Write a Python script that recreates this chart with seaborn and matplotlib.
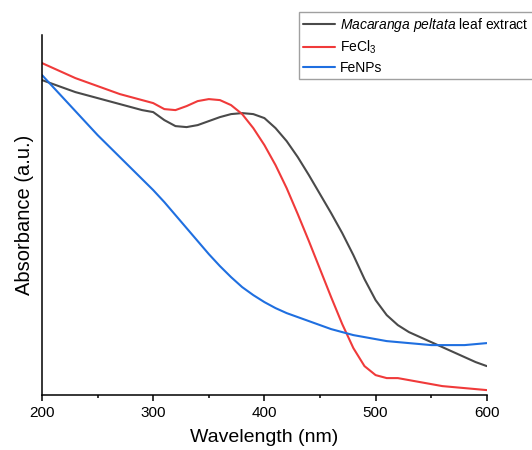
import numpy as np
import pandas as pd
import seaborn as sns
import matplotlib.pyplot as plt

# UV-vis spectra, values (arbitrary units)
wavelength = list(range(200, 601, 10))

leaf_extract = [3.15, 3.11, 3.07, 3.03, 3.00, 2.97, 2.94, 2.91, 2.88, 2.85,
                2.83, 2.75, 2.69, 2.68, 2.70, 2.74, 2.78, 2.81, 2.82, 2.81,
                2.77, 2.67, 2.54, 2.38, 2.20, 2.01, 1.82, 1.62, 1.40, 1.16,
                0.95, 0.80, 0.70, 0.63, 0.58, 0.53, 0.48, 0.43, 0.38, 0.33,
                0.29]

fecl3 = [3.32, 3.27, 3.22, 3.17, 3.13, 3.09, 3.05, 3.01, 2.98, 2.95,
         2.92, 2.86, 2.85, 2.89, 2.94, 2.96, 2.95, 2.90, 2.81, 2.67,
         2.50, 2.30, 2.07, 1.81, 1.54, 1.26, 0.98, 0.71, 0.47, 0.29,
         0.20, 0.17, 0.17, 0.15, 0.13, 0.11, 0.09, 0.08, 0.07, 0.06,
         0.05]

fenps = [3.20, 3.08, 2.96, 2.84, 2.72, 2.60, 2.49, 2.38, 2.27, 2.16,
         2.05, 1.93, 1.80, 1.67, 1.54, 1.41, 1.29, 1.18, 1.08, 1.00,
         0.93, 0.87, 0.82, 0.78, 0.74, 0.70, 0.66, 0.63, 0.60, 0.58,
         0.56, 0.54, 0.53, 0.52, 0.51, 0.50, 0.50, 0.50, 0.50, 0.51,
         0.52]

series_names = ["extract", "FeCl3", "FeNPs"]
legend_labels = [r"$\mathit{Macaranga\ peltata}$ leaf extract",
                 r"FeCl$_3$", "FeNPs"]
colors = ["#4a4a4a", "#f03a3a", "#1f6fe0"]

df = pd.DataFrame({
    "Wavelength": wavelength * 3,
    "Absorbance": leaf_extract + fecl3 + fenps,
    "Sample": [s for s in series_names for _ in wavelength],
})

sns.set_style("ticks")
plt.rcParams['font.family'] = ['Liberation Sans', 'DejaVu Sans']
plt.rcParams['mathtext.fontset'] = 'custom'
plt.rcParams['mathtext.rm'] = 'Liberation Sans'
plt.rcParams['mathtext.it'] = 'Liberation Sans:italic'
plt.rcParams['text.color'] = 'black'
plt.rcParams['axes.labelcolor'] = 'black'
plt.rcParams['xtick.color'] = 'black'

fig = plt.figure(figsize=(5.32, 4.5), dpi=100)
ax = fig.add_axes([0.079, 0.122, 0.836, 0.800])

sns.lineplot(data=df, x="Wavelength", y="Absorbance", hue="Sample",
             palette=dict(zip(series_names, colors)), linewidth=1.5, ax=ax)
for line in ax.get_lines():
    line.set_solid_joinstyle("round")

ax.set_xlim(200, 600)
ax.set_ylim(0, 3.6)
ax.set_xticks([200, 300, 400, 500, 600])
ax.set_xticks([250, 350, 450, 550], minor=True)
ax.set_yticks([])
ax.tick_params(axis='x', which='major', length=4, width=1.1, labelsize=11, pad=4)
ax.tick_params(axis='x', which='minor', length=2.5, width=1.1)
for side in ["top", "right"]:
    ax.spines[side].set_visible(False)
for side in ["left", "bottom"]:
    ax.spines[side].set_linewidth(1.1)
    ax.spines[side].set_color("black")

ax.set_xlabel("Wavelength (nm)", fontsize=14, labelpad=6)
ax.set_ylabel("Absorbance (a.u.)", fontsize=14.5, labelpad=6)

handles, _ = ax.get_legend_handles_labels()
ax.legend(handles[:3], legend_labels, loc="upper left",
          bbox_to_anchor=(299 / 532, 1 - 12 / 450),
          bbox_transform=fig.transFigure, fontsize=10, frameon=True,
          fancybox=False, edgecolor="#a0a0a0", framealpha=1,
          handlelength=2.3, handletextpad=0.35, labelspacing=0.35,
          borderpad=0.3, borderaxespad=0)
ax.get_legend().get_frame().set_linewidth(1.0)

fig.savefig("out.png", dpi=100)
